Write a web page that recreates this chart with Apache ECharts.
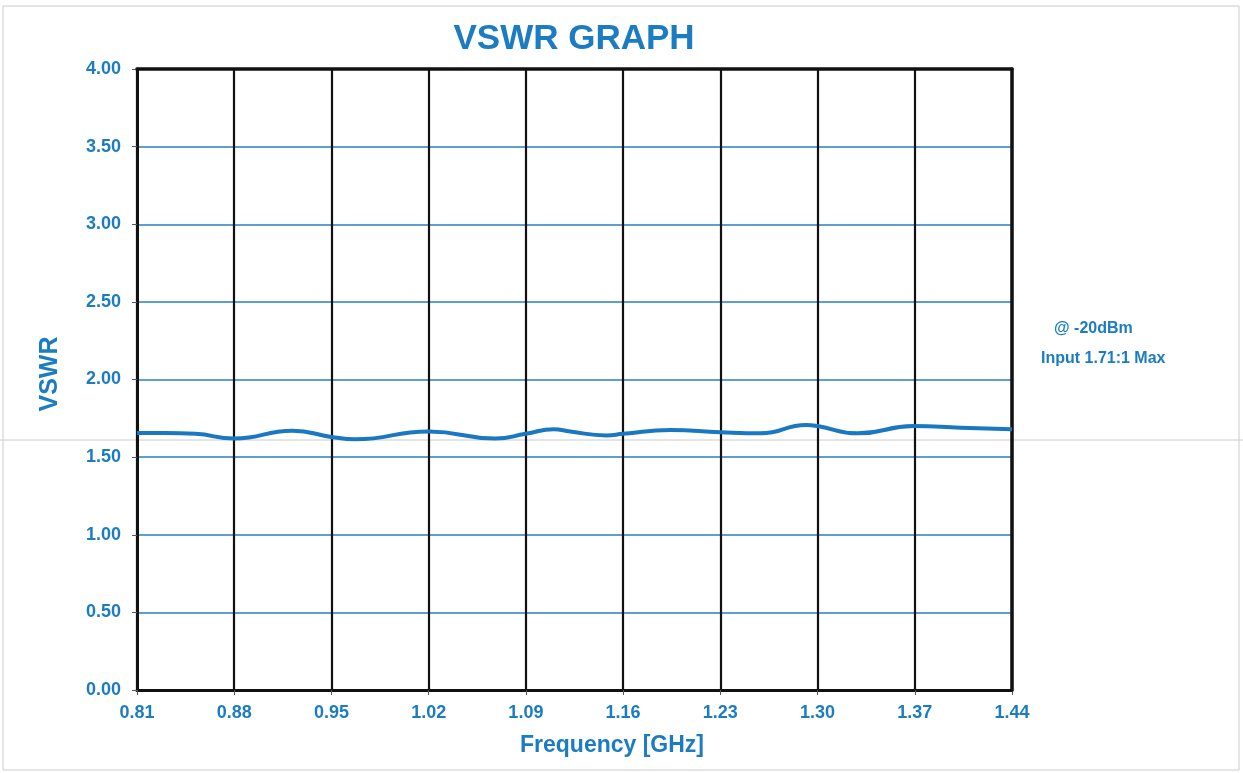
<!DOCTYPE html>
<html>
<head>
<meta charset="utf-8">
<script src="https://cdn.jsdelivr.net/npm/echarts@6/dist/echarts.min.js"></script>
<style>
html,body{margin:0;padding:0;background:#fff;}
#chart{width:1243px;height:773px;}
</style>
</head>
<body>
<div id="chart"></div>
<script>
// Frequency tick labels (GHz)
const freqTicks = ['0.81','0.88','0.95','1.02','1.09','1.16','1.23','1.30','1.37','1.44'];
// Curve sample frequencies (GHz)
const freqGHz = [0.81,0.830,0.852,0.88,0.922,0.95,0.967,1.02,1.068,1.09,1.11,1.122,1.148,1.16,1.194,1.23,1.259,1.292,1.30,1.329,1.369,1.403,1.44];
// VSWR values
const vswr = [1.655,1.655,1.65,1.62,1.67,1.63,1.615,1.665,1.62,1.65,1.68,1.665,1.64,1.65,1.675,1.66,1.653,1.707,1.70,1.653,1.70,1.69,1.68];
const annotations = ['@ -20dBm','Input 1.71:1 Max'];
const xName = 'Frequency [GHz]';
const yName = 'VSWR';

const blue = '#1c7cc2';
const gridBlue = '#2a7fbf';
const font = 'Liberation Sans, Arial, sans-serif';
const tickVals = freqTicks.map(Number);

const chart = echarts.init(document.getElementById('chart'), null, {renderer:'canvas'});
chart.setOption({
  backgroundColor:'#fff',
  animation:false,
  title:{
    text:'VSWR GRAPH', left:569, top:17, textAlign:'center',
    textStyle:{color:blue,fontFamily:font,fontWeight:'bold',fontSize:35}
  },
  grid:{left:137,right:231,top:69,bottom:83,containLabel:false},
  xAxis:[{
    type:'value', min:0.81, max:1.44,
    axisLine:{show:true,lineStyle:{color:'#111',width:3}},
    axisTick:{show:true,customValues:tickVals,length:5,lineStyle:{color:'#555',width:1}},
    axisLabel:{customValues:tickVals,color:blue,fontFamily:font,fontWeight:'bold',fontSize:18,margin:14,
      formatter:v=>v.toFixed(2)},
    splitLine:{show:true,lineStyle:{color:'#111',width:2.2}}
  },{
    type:'value', position:'top', min:0.81, max:1.44, z:5,
    axisLine:{show:true,onZero:false,lineStyle:{color:'#111',width:3.5}},
    axisTick:{show:false},axisLabel:{show:false},splitLine:{show:false}
  }],
  yAxis:[{
    type:'value', min:0, max:4, interval:0.5,
    axisLine:{show:true,lineStyle:{color:'#111',width:3}},
    axisTick:{show:true,length:5,lineStyle:{color:'#555',width:1}},
    axisLabel:{color:blue,fontFamily:font,fontWeight:'bold',fontSize:18,margin:16,
      formatter:v=>v.toFixed(2)},
    splitLine:{show:true,lineStyle:{color:['#111',gridBlue,gridBlue,gridBlue,gridBlue,gridBlue,gridBlue,gridBlue,'#111'],width:1.5}}
  },{
    type:'value', position:'right', min:0, max:4, z:5,
    axisLine:{show:true,onZero:false,lineStyle:{color:'#111',width:3.5}},
    axisTick:{show:false},axisLabel:{show:false},splitLine:{show:false}
  }],
  graphic:[
    {type:'rect',shape:{x:3,y:6,width:1236,height:764},style:{fill:'none',stroke:'#ccc',lineWidth:1},silent:true,z:-10},
    {type:'line',shape:{x1:0,y1:440,x2:1243,y2:440},style:{stroke:'#ccc',lineWidth:1},silent:true,z:-10},
    {type:'text',x:612,y:746,style:{text:xName,fill:blue,font:'bold 23px '+font,align:'center',verticalAlign:'middle'}},
    {type:'text',x:50,y:374,rotation:Math.PI/2,style:{text:yName,fill:blue,font:'bold 25px '+font,align:'center',verticalAlign:'middle'}},
    {type:'text',x:1054,y:329,style:{text:annotations[0],fill:blue,font:'bold 16px '+font,verticalAlign:'middle'}},
    {type:'text',x:1041,y:359,style:{text:annotations[1],fill:blue,font:'bold 16px '+font,verticalAlign:'middle'}}
  ],
  series:[{
    type:'line', xAxisIndex:0, yAxisIndex:0,
    data:freqGHz.map((f,i)=>[f,vswr[i]]),
    smooth:0.5, showSymbol:false, symbol:'none',
    lineStyle:{color:'#1a78c2',width:4}, z:5
  }]
});
</script>
</body>
</html>
